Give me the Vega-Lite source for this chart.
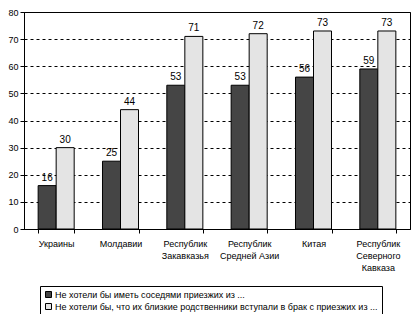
{
  "$schema": "https://vega.github.io/schema/vega-lite/v6.json",
  "autosize": {"type": "none"},
  "width": 386,
  "height": 217,
  "padding": {"left": 24, "top": 12, "right": 10, "bottom": 85},
  "background": "white",
  "config": {
    "font": "Liberation Sans",
    "view": {"stroke": "black", "strokeWidth": 1},
    "axis": {"labelColor": "black", "labelFontSize": 9, "tickColor": "black", "domainColor": "black", "titleFontSize": 9}
  },
  "data": {
    "values": [
      {"region": "Украины", "series": "Не хотели бы иметь соседями приезжих из ...", "value": 16},
      {"region": "Украины", "series": "Не хотели бы, что их близкие родственники вступали в брак с приезжих из ...", "value": 30},
      {"region": "Молдавии", "series": "Не хотели бы иметь соседями приезжих из ...", "value": 25},
      {"region": "Молдавии", "series": "Не хотели бы, что их близкие родственники вступали в брак с приезжих из ...", "value": 44},
      {"region": "Республик Закавказья", "series": "Не хотели бы иметь соседями приезжих из ...", "value": 53},
      {"region": "Республик Закавказья", "series": "Не хотели бы, что их близкие родственники вступали в брак с приезжих из ...", "value": 71},
      {"region": "Республик Средней Азии", "series": "Не хотели бы иметь соседями приезжих из ...", "value": 53},
      {"region": "Республик Средней Азии", "series": "Не хотели бы, что их близкие родственники вступали в брак с приезжих из ...", "value": 72},
      {"region": "Китая", "series": "Не хотели бы иметь соседями приезжих из ...", "value": 56},
      {"region": "Китая", "series": "Не хотели бы, что их близкие родственники вступали в брак с приезжих из ...", "value": 73},
      {"region": "Республик Северного Кавказа", "series": "Не хотели бы иметь соседями приезжих из ...", "value": 59},
      {"region": "Республик Северного Кавказа", "series": "Не хотели бы, что их близкие родственники вступали в брак с приезжих из ...", "value": 73}
    ]
  },
  "encoding": {
    "x": {
      "field": "region",
      "type": "nominal",
      "sort": null,
      "scale": {"paddingInner": 0.44, "paddingOuter": 0.22},
      "axis": {
        "title": null,
        "labelAngle": 0,
        "labelPadding": 6,
        "tickBand": "extent",
        "tickSize": 4,
        "labelLineHeight": 12,
        "labelExpr": "datum.label == 'Республик Средней Азии' ? ['Республик', 'Средней Азии'] : split(datum.label, ' ')"
      }
    },
    "xOffset": {"field": "series", "type": "nominal", "sort": null},
    "y": {
      "field": "value",
      "type": "quantitative",
      "scale": {"domain": [0, 80], "nice": false},
      "axis": {
        "title": null,
        "values": [0, 10, 20, 30, 40, 50, 60, 70, 80],
        "grid": true,
        "gridColor": "black",
        "gridDash": [3, 3],
        "gridWidth": 1,
        "tickSize": 4,
        "labelPadding": 2
      }
    }
  },
  "layer": [
    {
      "mark": {"type": "bar", "stroke": "black", "strokeWidth": 1},
      "encoding": {
        "color": {
          "field": "series",
          "type": "nominal",
          "sort": null,
          "scale": {"range": ["#454545", "#e4e4e4"]},
          "legend": {
            "title": null,
            "orient": "none",
            "legendX": 16,
            "legendY": 274,
            "direction": "vertical",
            "strokeColor": "black",
            "fillColor": "white",
            "padding": 4,
            "symbolType": "square",
            "symbolSize": 36,
            "symbolStrokeColor": "black",
            "symbolStrokeWidth": 1,
            "labelFontSize": 9,
            "labelColor": "black",
            "labelLimit": 400,
            "labelOffset": 2,
            "rowPadding": 1
          }
        }
      }
    },
    {
      "mark": {"type": "text", "dy": -8, "fontSize": 10, "color": "black"},
      "encoding": {"text": {"field": "value", "type": "quantitative"}}
    }
  ]
}
